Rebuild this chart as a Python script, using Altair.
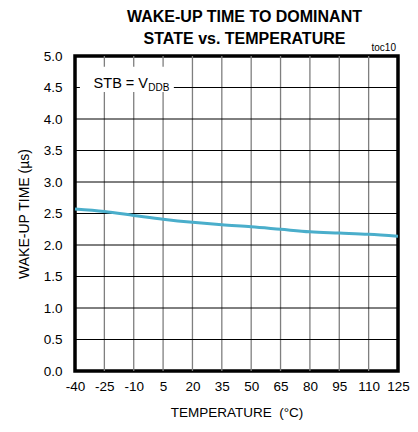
import altair as alt
import pandas as pd

temps = [-40, -25, -10, 5, 20, 35, 50, 65, 80, 95, 110, 125]
wake_us = [2.57, 2.53, 2.47, 2.41, 2.36, 2.32, 2.29, 2.25, 2.21, 2.19, 2.17, 2.14]
x_ticks = [-40, -25, -10, 5, 20, 35, 50, 65, 80, 95, 110, 125]
y_ticks = [0.0, 0.5, 1.0, 1.5, 2.0, 2.5, 3.0, 3.5, 4.0, 4.5, 5.0]

FONT = "Liberation Sans, Arial, sans-serif"
CURVE = "#4aaecb"

df = pd.DataFrame({"t": temps, "w": wake_us})

xs = alt.Scale(domain=[-40, 125], nice=False, zero=False)
ys = alt.Scale(domain=[0, 5], nice=False, zero=False)

xaxis = alt.Axis(values=x_ticks, grid=False, ticks=False, domain=False,
                 labelPadding=8, titlePadding=13, labelFontSize=13.5, titleFontSize=13.5,
                 labelFont=FONT, titleFont=FONT, titleFontWeight="normal",
                 labelColor="#000", titleColor="#000", labelFlush=False,
                 labelOverlap=False, labelExpr="'' + datum.value")
yaxis = alt.Axis(values=y_ticks, grid=False, ticks=False, domain=False,
                 labelPadding=13, titlePadding=12, labelFontSize=13.5, titleFontSize=14,
                 labelFont=FONT, titleFont=FONT, titleFontWeight="normal",
                 labelColor="#000", titleColor="#000", format=".1f", labelFlush=False,
                 labelOverlap=False)
XT = "TEMPERATURE\u00a0\u00a0(°C)"
YT = "WAKE-UP TIME (µs)"


def X(f):
    return alt.X(f, scale=xs, axis=xaxis, title=XT)


def Y(f):
    return alt.Y(f, scale=ys, axis=yaxis, title=YT)


vgrid = pd.DataFrame({"t": x_ticks[1:-1]})
hgrid = pd.DataFrame({"w": y_ticks[1:-1]})

vlines = alt.Chart(vgrid).mark_rule(color="#7f7f7f", strokeWidth=1.3).encode(x=X("t:Q"))
hlines = alt.Chart(hgrid).mark_rule(color="#000000", strokeWidth=1).encode(y=Y("w:Q"))

box = pd.DataFrame({"x1": [-37.5], "x2": [10.5], "y1": [4.43], "y2": [4.83]})
boxmark = alt.Chart(box).mark_rect(color="white").encode(
    x=X("x1:Q"), x2="x2:Q", y=Y("y1:Q"), y2="y2:Q")

lab = pd.DataFrame({"x": [-30.5], "y": [4.5], "s": ["STB = V"]})
sub = pd.DataFrame({"x": [-2.6], "y": [4.45], "s": ["DDB"]})
labmark = alt.Chart(lab).mark_text(font=FONT, fontSize=14.5, align="left", baseline="alphabetic",
                                   color="#000").encode(x=X("x:Q"), y=Y("y:Q"), text="s:N")
submark = alt.Chart(sub).mark_text(font=FONT, fontSize=10, align="left", baseline="alphabetic",
                                   color="#000").encode(x=X("x:Q"), y=Y("y:Q"), text="s:N")

curve = alt.Chart(df).mark_line(color=CURVE, strokeWidth=3, interpolate="monotone").encode(
    x=X("t:Q"), y=Y("w:Q"))

toc = pd.DataFrame({"x": [125], "y": [5.0], "s": ["toc10"]})
tocmark = alt.Chart(toc).mark_text(font=FONT, fontSize=10, align="right", baseline="bottom",
                                   dx=-2, dy=-3, color="#000").encode(
    x=X("x:Q"), y=Y("y:Q"), text="s:N")

chart = alt.layer(vlines, hlines, boxmark, labmark, submark, curve, tocmark).properties(
    width=323, height=315,
    padding={"left": 67, "top": 48, "right": 12, "bottom": 53},
    autosize=alt.AutoSizeParams(type="none"),
    background="white",
    title=alt.TitleParams(["WAKE-UP TIME TO DOMINANT", "STATE vs. TEMPERATURE"],
                          font=FONT, fontSize=16, fontWeight="bold", color="#000",
                          anchor="middle", dx=8, dy=16, offset=12, lineHeight=22),
).configure_view(stroke="#000", strokeWidth=3.5)

chart.save("out.html", embed_options={"renderer": "svg", "actions": False})
